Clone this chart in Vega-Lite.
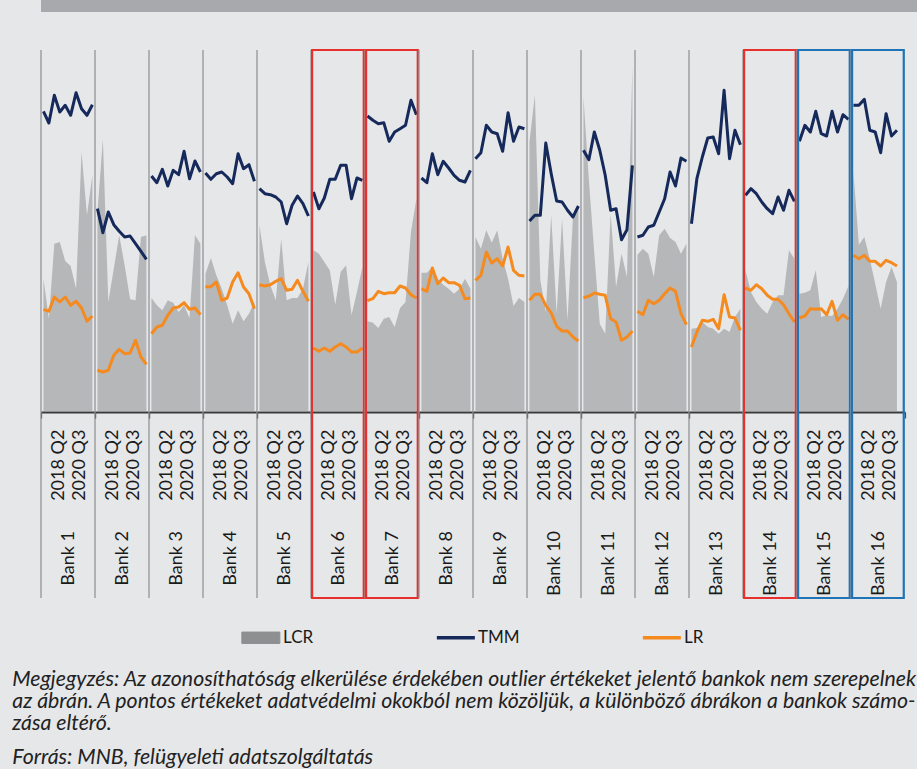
{
  "$schema": "https://vega.github.io/schema/vega-lite/v6.json",
  "background": "#E6E7E9",
  "padding": {"left": 6, "top": 0, "right": 0, "bottom": 0},
  "config": {"font": "Lato", "view": {"stroke": null}},
  "title": {
    "text": ["Megjegyzés: Az azonosíthatóság elkerülése érdekében outlier értékeket jelentő bankok nem szerepelnek", "az ábrán. A pontos értékeket adatvédelmi okokból nem közöljük, a különböző ábrákon a bankok számo-", "zása eltérő."],
    "subtitle": "Forrás: MNB, felügyeleti adatszolgáltatás",
    "orient": "bottom", "anchor": "start", "frame": "group",
    "font": "Lato", "fontStyle": "italic", "fontWeight": "normal", "fontSize": 21.3, "lineHeight": 22, "color": "#222222",
    "subtitleFont": "Lato", "subtitleFontStyle": "italic", "subtitleFontSize": 21.3, "subtitleColor": "#222222", "subtitlePadding": 13,
    "offset": 23, "dx": -28.7
  },
  "datasets": {
    "banks": [
      {"bank":"Bank 1","q":0,"LCR":133.3,"TMM":300.7,"LR":102.7},
      {"bank":"Bank 1","q":1,"LCR":93.3,"TMM":289,"LR":100.7},
      {"bank":"Bank 1","q":2,"LCR":168.3,"TMM":316.7,"LR":115},
      {"bank":"Bank 1","q":3,"LCR":170,"TMM":300,"LR":110},
      {"bank":"Bank 1","q":4,"LCR":151,"TMM":306.7,"LR":115},
      {"bank":"Bank 1","q":5,"LCR":146,"TMM":296.7,"LR":106.7},
      {"bank":"Bank 1","q":6,"LCR":123.3,"TMM":319.3,"LR":110.7},
      {"bank":"Bank 1","q":7,"LCR":260,"TMM":303.3,"LR":104},
      {"bank":"Bank 1","q":8,"LCR":196.7,"TMM":296.7,"LR":90.7},
      {"bank":"Bank 1","q":9,"LCR":236.7,"TMM":307.3,"LR":96},
      {"bank":"Bank 2","q":0,"LCR":200,"TMM":203.3,"LR":41.7},
      {"bank":"Bank 2","q":1,"LCR":272.7,"TMM":179.3,"LR":40},
      {"bank":"Bank 2","q":2,"LCR":110,"TMM":200,"LR":41.7},
      {"bank":"Bank 2","q":3,"LCR":143.3,"TMM":187.3,"LR":56.7},
      {"bank":"Bank 2","q":4,"LCR":176.7,"TMM":180.7,"LR":62.7},
      {"bank":"Bank 2","q":5,"LCR":146.7,"TMM":175,"LR":58.3},
      {"bank":"Bank 2","q":6,"LCR":112.7,"TMM":176,"LR":59},
      {"bank":"Bank 2","q":7,"LCR":111.7,"TMM":168.3,"LR":71.7},
      {"bank":"Bank 2","q":8,"LCR":175,"TMM":160.7,"LR":55},
      {"bank":"Bank 2","q":9,"LCR":176.7,"TMM":152.7,"LR":47.7},
      {"bank":"Bank 3","q":0,"LCR":114,"TMM":236,"LR":78.3},
      {"bank":"Bank 3","q":1,"LCR":106.7,"TMM":229.3,"LR":85},
      {"bank":"Bank 3","q":2,"LCR":101.7,"TMM":242.7,"LR":86.7},
      {"bank":"Bank 3","q":3,"LCR":111.7,"TMM":226,"LR":96.7},
      {"bank":"Bank 3","q":4,"LCR":109.3,"TMM":241.7,"LR":104},
      {"bank":"Bank 3","q":5,"LCR":100,"TMM":237.3,"LR":105},
      {"bank":"Bank 3","q":6,"LCR":106.7,"TMM":260.7,"LR":109.3},
      {"bank":"Bank 3","q":7,"LCR":94,"TMM":233.3,"LR":102.7},
      {"bank":"Bank 3","q":8,"LCR":176.7,"TMM":251,"LR":104},
      {"bank":"Bank 3","q":9,"LCR":168.3,"TMM":240,"LR":97.3},
      {"bank":"Bank 4","q":0,"LCR":138.3,"TMM":239,"LR":125.3},
      {"bank":"Bank 4","q":1,"LCR":154,"TMM":232.7,"LR":125.3},
      {"bank":"Bank 4","q":2,"LCR":136.7,"TMM":238.3,"LR":130},
      {"bank":"Bank 4","q":3,"LCR":123.3,"TMM":240,"LR":111.7},
      {"bank":"Bank 4","q":4,"LCR":106.7,"TMM":235,"LR":114},
      {"bank":"Bank 4","q":5,"LCR":88.3,"TMM":228.3,"LR":130},
      {"bank":"Bank 4","q":6,"LCR":101.7,"TMM":258.3,"LR":139.3},
      {"bank":"Bank 4","q":7,"LCR":90.7,"TMM":243.3,"LR":125},
      {"bank":"Bank 4","q":8,"LCR":98.3,"TMM":247.3,"LR":118.3},
      {"bank":"Bank 4","q":9,"LCR":110,"TMM":230.7,"LR":103.3},
      {"bank":"Bank 5","q":0,"LCR":186.7,"TMM":223.3,"LR":127.3},
      {"bank":"Bank 5","q":1,"LCR":150,"TMM":218.3,"LR":126},
      {"bank":"Bank 5","q":2,"LCR":126.7,"TMM":217.3,"LR":127.3},
      {"bank":"Bank 5","q":3,"LCR":111.7,"TMM":215,"LR":130.7},
      {"bank":"Bank 5","q":4,"LCR":173.3,"TMM":210,"LR":133.3},
      {"bank":"Bank 5","q":5,"LCR":111.7,"TMM":188.3,"LR":121.7},
      {"bank":"Bank 5","q":6,"LCR":114,"TMM":206.7,"LR":122.7},
      {"bank":"Bank 5","q":7,"LCR":114,"TMM":216,"LR":131.7},
      {"bank":"Bank 5","q":8,"LCR":123.3,"TMM":208.3,"LR":120.7},
      {"bank":"Bank 5","q":9,"LCR":150,"TMM":196,"LR":110.7},
      {"bank":"Bank 6","q":0,"LCR":161.7,"TMM":220,"LR":64,"highlight":"A"},
      {"bank":"Bank 6","q":1,"LCR":158.3,"TMM":203.3,"LR":60.7,"highlight":"A"},
      {"bank":"Bank 6","q":2,"LCR":150,"TMM":214,"LR":64,"highlight":"A"},
      {"bank":"Bank 6","q":3,"LCR":141.7,"TMM":232.7,"LR":60.7,"highlight":"A"},
      {"bank":"Bank 6","q":4,"LCR":107.3,"TMM":232.7,"LR":65,"highlight":"A"},
      {"bank":"Bank 6","q":5,"LCR":140,"TMM":246.7,"LR":68.3,"highlight":"A"},
      {"bank":"Bank 6","q":6,"LCR":146.7,"TMM":246.7,"LR":65,"highlight":"A"},
      {"bank":"Bank 6","q":7,"LCR":96.7,"TMM":213.3,"LR":60,"highlight":"A"},
      {"bank":"Bank 6","q":8,"LCR":120,"TMM":234,"LR":60,"highlight":"A"},
      {"bank":"Bank 6","q":9,"LCR":145,"TMM":231.7,"LR":64,"highlight":"A"},
      {"bank":"Bank 7","q":0,"LCR":90.7,"TMM":296,"LR":111.3,"highlight":"A"},
      {"bank":"Bank 7","q":1,"LCR":89.3,"TMM":291.7,"LR":113.3,"highlight":"A"},
      {"bank":"Bank 7","q":2,"LCR":84,"TMM":288.3,"LR":120.7,"highlight":"A"},
      {"bank":"Bank 7","q":3,"LCR":93.3,"TMM":289.3,"LR":118.3,"highlight":"A"},
      {"bank":"Bank 7","q":4,"LCR":95,"TMM":270.7,"LR":119.3,"highlight":"A"},
      {"bank":"Bank 7","q":5,"LCR":85,"TMM":280,"LR":119.3,"highlight":"A"},
      {"bank":"Bank 7","q":6,"LCR":104,"TMM":283.3,"LR":126,"highlight":"A"},
      {"bank":"Bank 7","q":7,"LCR":110,"TMM":286.7,"LR":124,"highlight":"A"},
      {"bank":"Bank 7","q":8,"LCR":180,"TMM":311.7,"LR":117.3,"highlight":"A"},
      {"bank":"Bank 7","q":9,"LCR":213.3,"TMM":297.3,"LR":114,"highlight":"A"},
      {"bank":"Bank 8","q":0,"LCR":139.3,"TMM":234,"LR":123.3},
      {"bank":"Bank 8","q":1,"LCR":139.3,"TMM":229.3,"LR":120.7},
      {"bank":"Bank 8","q":2,"LCR":145,"TMM":258.3,"LR":144},
      {"bank":"Bank 8","q":3,"LCR":133.3,"TMM":237.3,"LR":128.3},
      {"bank":"Bank 8","q":4,"LCR":127.3,"TMM":250.7,"LR":134},
      {"bank":"Bank 8","q":5,"LCR":123.3,"TMM":244,"LR":129.3},
      {"bank":"Bank 8","q":6,"LCR":118.3,"TMM":236.7,"LR":129.3},
      {"bank":"Bank 8","q":7,"LCR":123.3,"TMM":231.7,"LR":126.7},
      {"bank":"Bank 8","q":8,"LCR":133.3,"TMM":230,"LR":113.3},
      {"bank":"Bank 8","q":9,"LCR":123.3,"TMM":241.7,"LR":114},
      {"bank":"Bank 9","q":0,"LCR":175,"TMM":253.3,"LR":131.7},
      {"bank":"Bank 9","q":1,"LCR":163.3,"TMM":259.3,"LR":136.7},
      {"bank":"Bank 9","q":2,"LCR":181.7,"TMM":286.7,"LR":160},
      {"bank":"Bank 9","q":3,"LCR":169.3,"TMM":280,"LR":149},
      {"bank":"Bank 9","q":4,"LCR":181.7,"TMM":278.3,"LR":153.3},
      {"bank":"Bank 9","q":5,"LCR":153.3,"TMM":260.7,"LR":146},
      {"bank":"Bank 9","q":6,"LCR":133.3,"TMM":299.3,"LR":165},
      {"bank":"Bank 9","q":7,"LCR":106,"TMM":270.7,"LR":141.7},
      {"bank":"Bank 9","q":8,"LCR":114,"TMM":285,"LR":136.7},
      {"bank":"Bank 9","q":9,"LCR":110,"TMM":283.3,"LR":136},
      {"bank":"Bank 10","q":0,"LCR":270,"TMM":191,"LR":111.7},
      {"bank":"Bank 10","q":1,"LCR":316.7,"TMM":196.7,"LR":117.7},
      {"bank":"Bank 10","q":2,"LCR":131.7,"TMM":196.7,"LR":117.7},
      {"bank":"Bank 10","q":3,"LCR":100,"TMM":269,"LR":106.7},
      {"bank":"Bank 10","q":4,"LCR":196.7,"TMM":238.3,"LR":99},
      {"bank":"Bank 10","q":5,"LCR":98.3,"TMM":211,"LR":85.7},
      {"bank":"Bank 10","q":6,"LCR":193.3,"TMM":210,"LR":81},
      {"bank":"Bank 10","q":7,"LCR":91.7,"TMM":201.7,"LR":81},
      {"bank":"Bank 10","q":8,"LCR":195,"TMM":195,"LR":75},
      {"bank":"Bank 10","q":9,"LCR":205,"TMM":206,"LR":71},
      {"bank":"Bank 11","q":0,"LCR":315,"TMM":261.7,"LR":114.3},
      {"bank":"Bank 11","q":1,"LCR":231.7,"TMM":252.3,"LR":115.7},
      {"bank":"Bank 11","q":2,"LCR":158.3,"TMM":280,"LR":119},
      {"bank":"Bank 11","q":3,"LCR":88.3,"TMM":261.7,"LR":117.7},
      {"bank":"Bank 11","q":4,"LCR":78.3,"TMM":236.7,"LR":116.7},
      {"bank":"Bank 11","q":5,"LCR":198.3,"TMM":201.7,"LR":93.3},
      {"bank":"Bank 11","q":6,"LCR":125,"TMM":203.3,"LR":90},
      {"bank":"Bank 11","q":7,"LCR":158.3,"TMM":172.3,"LR":71.7},
      {"bank":"Bank 11","q":8,"LCR":135,"TMM":182.3,"LR":75},
      {"bank":"Bank 11","q":9,"LCR":345,"TMM":246.7,"LR":81},
      {"bank":"Bank 12","q":0,"LCR":157.3,"TMM":175,"LR":100.7},
      {"bank":"Bank 12","q":1,"LCR":163.3,"TMM":176.7,"LR":97.3},
      {"bank":"Bank 12","q":2,"LCR":158.3,"TMM":185,"LR":111.7},
      {"bank":"Bank 12","q":3,"LCR":135,"TMM":186.7,"LR":108.3},
      {"bank":"Bank 12","q":4,"LCR":176.7,"TMM":200,"LR":111.7},
      {"bank":"Bank 12","q":5,"LCR":183.3,"TMM":213.3,"LR":118.3},
      {"bank":"Bank 12","q":6,"LCR":174,"TMM":240,"LR":124},
      {"bank":"Bank 12","q":7,"LCR":170,"TMM":226,"LR":120.7},
      {"bank":"Bank 12","q":8,"LCR":158.3,"TMM":254,"LR":98.3},
      {"bank":"Bank 12","q":9,"LCR":168.3,"TMM":250.7,"LR":87.3},
      {"bank":"Bank 13","q":0,"LCR":83.3,"TMM":188.3,"LR":65},
      {"bank":"Bank 13","q":1,"LCR":84,"TMM":233.3,"LR":80},
      {"bank":"Bank 13","q":2,"LCR":90,"TMM":255,"LR":91.7},
      {"bank":"Bank 13","q":3,"LCR":85,"TMM":274,"LR":90.7},
      {"bank":"Bank 13","q":4,"LCR":83.3,"TMM":275,"LR":92.7},
      {"bank":"Bank 13","q":5,"LCR":78.3,"TMM":258.3,"LR":83.3},
      {"bank":"Bank 13","q":6,"LCR":83.3,"TMM":321.7,"LR":117.3},
      {"bank":"Bank 13","q":7,"LCR":80,"TMM":253.3,"LR":95},
      {"bank":"Bank 13","q":8,"LCR":95,"TMM":281.7,"LR":94},
      {"bank":"Bank 13","q":9,"LCR":103.3,"TMM":267.3,"LR":81.7},
      {"bank":"Bank 14","q":0,"LCR":141.7,"TMM":216.7,"LR":124,"highlight":"A"},
      {"bank":"Bank 14","q":1,"LCR":120,"TMM":223.3,"LR":121.7,"highlight":"A"},
      {"bank":"Bank 14","q":2,"LCR":110,"TMM":218.3,"LR":127.3,"highlight":"A"},
      {"bank":"Bank 14","q":3,"LCR":103.3,"TMM":210,"LR":123.3,"highlight":"A"},
      {"bank":"Bank 14","q":4,"LCR":98.3,"TMM":203.3,"LR":116.7,"highlight":"A"},
      {"bank":"Bank 14","q":5,"LCR":110,"TMM":198.3,"LR":112.7,"highlight":"A"},
      {"bank":"Bank 14","q":6,"LCR":116.7,"TMM":215,"LR":112.7,"highlight":"A"},
      {"bank":"Bank 14","q":7,"LCR":116.7,"TMM":201.7,"LR":107.3,"highlight":"A"},
      {"bank":"Bank 14","q":8,"LCR":161.7,"TMM":221.7,"LR":98.3,"highlight":"A"},
      {"bank":"Bank 14","q":9,"LCR":153.3,"TMM":210.7,"LR":90,"highlight":"A"},
      {"bank":"Bank 15","q":0,"LCR":118.3,"TMM":270.7,"LR":94,"highlight":"B"},
      {"bank":"Bank 15","q":1,"LCR":119.3,"TMM":286.7,"LR":96,"highlight":"B"},
      {"bank":"Bank 15","q":2,"LCR":121.7,"TMM":280,"LR":103.3,"highlight":"B"},
      {"bank":"Bank 15","q":3,"LCR":141.7,"TMM":300.7,"LR":102.7,"highlight":"B"},
      {"bank":"Bank 15","q":4,"LCR":95,"TMM":278.3,"LR":103.3,"highlight":"B"},
      {"bank":"Bank 15","q":5,"LCR":96.7,"TMM":276,"LR":97.3,"highlight":"B"},
      {"bank":"Bank 15","q":6,"LCR":96,"TMM":300.7,"LR":110.7,"highlight":"B"},
      {"bank":"Bank 15","q":7,"LCR":103.3,"TMM":280,"LR":91.7,"highlight":"B"},
      {"bank":"Bank 15","q":8,"LCR":113.3,"TMM":297.3,"LR":97.3,"highlight":"B"},
      {"bank":"Bank 15","q":9,"LCR":126,"TMM":292.7,"LR":92.7,"highlight":"B"},
      {"bank":"Bank 16","q":0,"LCR":240,"TMM":306.7,"LR":156.7,"highlight":"B"},
      {"bank":"Bank 16","q":1,"LCR":167.3,"TMM":306.7,"LR":153.3,"highlight":"B"},
      {"bank":"Bank 16","q":2,"LCR":175,"TMM":312.7,"LR":156.7,"highlight":"B"},
      {"bank":"Bank 16","q":3,"LCR":153.3,"TMM":281.7,"LR":150.7,"highlight":"B"},
      {"bank":"Bank 16","q":4,"LCR":128.3,"TMM":280,"LR":150.7,"highlight":"B"},
      {"bank":"Bank 16","q":5,"LCR":103.3,"TMM":259.3,"LR":146,"highlight":"B"},
      {"bank":"Bank 16","q":6,"LCR":130,"TMM":298.3,"LR":151.7,"highlight":"B"},
      {"bank":"Bank 16","q":7,"LCR":145,"TMM":276,"LR":149.3,"highlight":"B"},
      {"bank":"Bank 16","q":8,"LCR":130,"TMM":281.7,"LR":146,"highlight":"B"}
    ]
  },
  "spacing": 36,
  "vconcat": [
    {
      "data": {"values": [{}]},
      "width": 880,
      "height": 12,
      "view": {"fill": "#A7A9AC", "stroke": null},
      "mark": {"type": "text", "text": ""},
      "encoding": {}
    },
    {
      "data": {"name": "banks"},
      "spacing": 0,
      "bounds": "flush",
      "facet": {
        "column": {
          "field": "bank", "type": "nominal",
          "sort": ["Bank 1","Bank 2","Bank 3","Bank 4","Bank 5","Bank 6","Bank 7","Bank 8","Bank 9","Bank 10","Bank 11","Bank 12","Bank 13","Bank 14","Bank 15","Bank 16"],
          "header": {
            "title": null, "labelOrient": "bottom", "labelAngle": -90, "labelAlign": "right", "labelBaseline": "bottom",
            "labelFont": "Lato", "labelFontSize": 18, "labelColor": "#1a1a1a", "labelPadding": 11,
            "labelLineHeight": 10.5, "labelLimit": 0,
            "labelExpr": "['2018 Q2', datum.value + '\u00a0\u00a0\u00a0\u00a0\u00a0\u00a0\u00a0\u00a0\u00a0\u00a0\u00a0\u00a0\u00a0\u00a0\u00a0\u00a0\u00a0\u00a0\u00a0\u00a0\u00a0\u00a0\u200b', '2020 Q3']"
          }
        }
      },
      "spec": {
        "width": 53.85,
        "height": 362,
        "layer": [
          {
            "transform": [{"aggregate": [{"op": "count", "as": "n"}], "groupby": ["bank"]}],
            "mark": {"type": "rule", "color": "#8D8E90", "strokeWidth": 1.2},
            "encoding": {
              "x": {"datum": -0.45},
              "y": {"datum": 362},
              "y2": {"datum": -186}
            }
          },
          {
            "mark": {"type": "area", "interpolate": "linear", "fillOpacity": 0.55},
            "encoding": {
              "x": {
                "field": "q", "type": "quantitative",
                "scale": {"domain": [-0.45, 9.45], "nice": false, "zero": false},
                "axis": {
                  "title": null,
                  "values": [-0.45, 9.45],
                  "grid": false, "labels": false,
                  "ticks": true, "tickSize": 6, "tickColor": "#4A4A4A", "tickWidth": 1.2,
                  "domain": true, "domainColor": "#3A3A3A", "domainWidth": 2.2
                }
              },
              "y": {
                "field": "LCR", "type": "quantitative", "stack": null,
                "scale": {"domain": [0, 362], "nice": false, "zero": false},
                "axis": {"title": null, "labels": false, "ticks": false, "domain": false, "grid": false, "minExtent": 34.7, "maxExtent": 34.7}
              },
              "color": {
                "datum": "LCR",
                "scale": {"domain": ["LCR", "TMM", "LR"], "range": ["#8E8F91", "#15295B", "#F58A1F"]},
                "legend": {
                  "orient": "none", "legendX": 218, "legendY": 629, "direction": "horizontal", "title": null,
                  "labelFont": "Lato", "labelFontSize": 17, "labelColor": "#1a1a1a", "labelOffset": 7,
                  "symbolSize": 1444, "columnPadding": 115,
                  "encode": {
                    "symbols": {
                      "update": {
                        "shape": {"signal": "datum.value === 'LCR' ? 'M-1.35,-0.3H0.65V0.3H-1.35Z' : 'M-1.35,0H0.65'"},
                        "strokeWidth": {"signal": "datum.value === 'LCR' ? 1 : 3.5"}
                      }
                    }
                  }
                }
              }
            }
          },
          {
            "mark": {"type": "line", "strokeWidth": 3, "strokeJoin": "round"},
            "encoding": {
              "x": {"field": "q", "type": "quantitative"},
              "y": {"field": "TMM", "type": "quantitative"},
              "color": {"datum": "TMM"}
            }
          },
          {
            "mark": {"type": "line", "strokeWidth": 3, "strokeJoin": "round"},
            "encoding": {
              "x": {"field": "q", "type": "quantitative"},
              "y": {"field": "LR", "type": "quantitative"},
              "color": {"datum": "LR"}
            }
          },
          {
            "transform": [
              {"filter": "isValid(datum.highlight)"},
              {"aggregate": [{"op": "count", "as": "n"}], "groupby": ["bank", "highlight"]}
            ],
            "mark": {"type": "rect", "fill": "transparent", "strokeWidth": 2.2},
            "encoding": {
              "x": {"datum": -0.25},
              "x2": {"datum": 9.25},
              "y": {"datum": 362},
              "y2": {"datum": -186},
              "stroke": {"field": "highlight", "type": "nominal", "scale": {"domain": ["A", "B"], "range": ["#E8302F", "#1F74B8"]}, "legend": null}
            }
          }
        ]
      }
    }
  ]
}
